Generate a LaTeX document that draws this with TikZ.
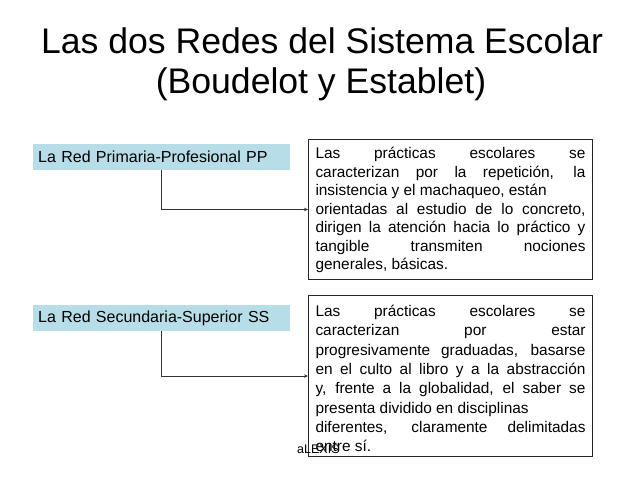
\documentclass[tikz,border=0pt]{standalone}
\usepackage{fontspec}
\setmainfont{Liberation Sans}
\usetikzlibrary{arrows.meta,positioning}
\tikzset{>={Stealth[length=4pt,width=3.5pt]}}
\definecolor{redfill}{HTML}{B7DDE8}
\tikzset{
	redbox/.style={fill=redfill, minimum width=257pt, minimum height=26pt, text width=247pt, inner xsep=5pt, inner ysep=0pt, align=left, font=\fontsize{16}{18}\selectfont},
	notebox/.style={draw=black!85, line width=1pt, inner xsep=7pt, inner ysep=0pt, align=left},
	link/.style={draw=black!80, line width=0.7pt, ->}
}
\newcommand{\jl}[1]{\makebox[270pt][s]{#1}}

\begin{document}
\begin{tikzpicture}[x=1pt, y=-1pt]
			\useasboundingbox (0, 0) rectangle (640, 480);
			\node (titleA) at (322, 53) [anchor=base, font=\fontsize{35.6}{40}\selectfont] {Las dos Redes del Sistema Escolar};
			\node (titleB) at (321, 93) [anchor=base, font=\fontsize{35.6}{40}\selectfont] {(Boudelot y Establet)};
			\node (pp) at (33, 157) [redbox, anchor=west] {La Red Primaria-Profesional PP};
			\node (ss) at (33, 318) [redbox, anchor=west] {La Red Secundaria-Superior SS};
			\node (tpp) at (308, 139) [notebox, anchor=north west, font=\fontsize{15.4}{18.5}\selectfont] {%
				\rule{0pt}{19pt}\jl{Las prácticas escolares se}\\
				\jl{caracterizan por la repetición, la}\\
				insistencia y el machaqueo, están\\
				\jl{orientadas al estudio de lo concreto,}\\
				\jl{dirigen la atención hacia lo práctico y}\\
				\jl{tangible transmiten nociones}\\
				generales, básicas.\rule[-10pt]{0pt}{10pt}};
			\node (tss) at (308, 295) [notebox, anchor=north west, font=\fontsize{15.4}{19.3}\selectfont] {%
				\rule{0pt}{21pt}\jl{Las prácticas escolares se}\\
				\jl{caracterizan por estar}\\
				\jl{progresivamente graduadas, basarse}\\
				\jl{en el culto al libro y a la abstracción}\\
				\jl{y, frente a la globalidad, el saber se}\\
				presenta dividido en disciplinas\\
				\jl{diferentes, claramente delimitadas}\\
				entre sí.\rule[-5pt]{0pt}{5pt}};
			\draw [link] (pp.south) |- (tpp.west);
			\draw [link] (ss.south) |- (tss.west);
			\node (autor) at (297, 453) [anchor=base west, inner sep=0pt, font=\fontsize{12.5}{14}\selectfont] {aLEXIS};
		\end{tikzpicture}
\end{document}
